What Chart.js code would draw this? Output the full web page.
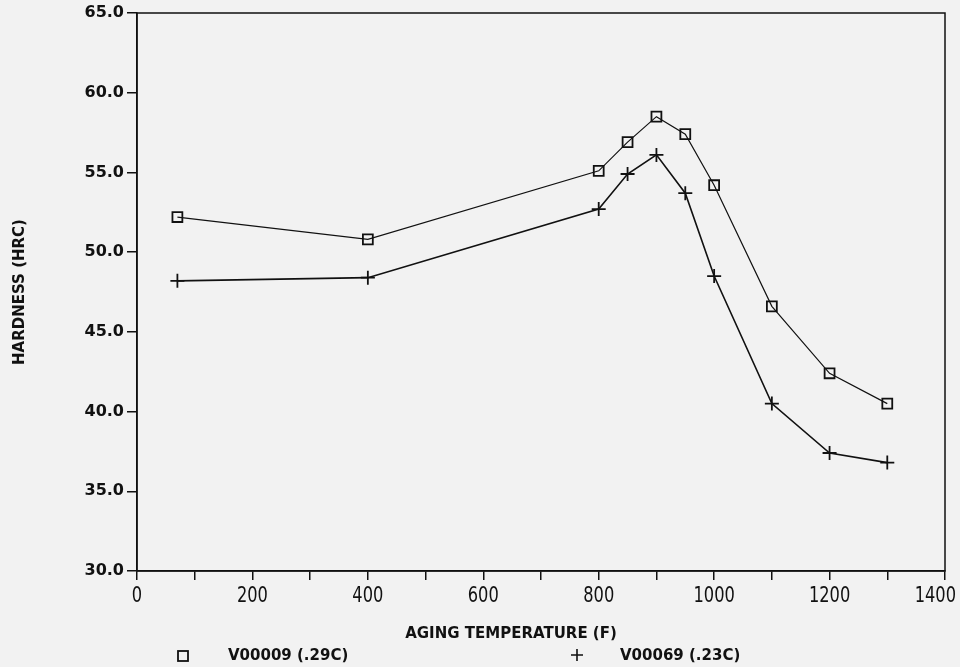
<!DOCTYPE html>
<html>
<head>
<meta charset="utf-8">
<script src="https://cdn.jsdelivr.net/npm/chart.js@4"></script>
<style>
  html, body { margin: 0; padding: 0; background: #f2f2f2; }
  canvas { display: block; }
</style>
</head>
<body>
<canvas id="hardnessChart" width="960" height="667"></canvas>
<script>
// datos
const temps = [70, 400, 800, 850, 900, 950, 1000, 1100, 1200, 1300];
const hrcV00009 = [52.2, 50.8, 55.1, 56.9, 58.5, 57.4, 54.2, 46.6, 42.4, 40.5];
const hrcV00069 = [48.2, 48.4, 52.7, 54.9, 56.1, 53.7, 48.5, 40.5, 37.4, 36.8];
const seriesNames = ['V00009 (.29C)', 'V00069 (.23C)'];
const xTitle = 'AGING TEMPERATURE (F)';
const yTitle = 'HARDNESS (HRC)';

const INK = '#111';
const boldFont = "'DejaVu Sans', sans-serif";
const narrowFont = "'Liberation Sans Narrow', 'DejaVu Sans Condensed', 'Liberation Sans', sans-serif";

function toPoints(ys) {
    return temps.map((t, i) => ({ x: t, y: ys[i] }));
}

// marco superior y derecho
const frame = {
    id: 'frame',
    afterDraw(chart) {
        const { ctx, chartArea } = chart;
        ctx.save();
        ctx.strokeStyle = INK;
        ctx.lineWidth = 1.5;
        ctx.strokeRect(chartArea.left, chartArea.top, chartArea.right - chartArea.left, chartArea.bottom - chartArea.top);
        ctx.restore();
    }
};

// etiquetas del eje x en letra estrecha (como el trazador)
const narrowTicks = {
    id: 'narrowTicks',
    afterDraw(chart) {
        const { ctx } = chart;
        const xs = chart.scales.x;
        ctx.save();
        ctx.fillStyle = INK;
        ctx.font = '22px ' + narrowFont;
        ctx.textAlign = 'center';
        ctx.textBaseline = 'top';
        xs.ticks.forEach(t => {
            if (t.value % 200 !== 0) return;
            const label = String(t.value);
            let px = xs.getPixelForValue(t.value);
            const w = ctx.measureText(label).width * 0.82;
            px = Math.min(px, chart.width - w / 2 - 4);
            ctx.save();
            ctx.translate(px, xs.bottom - xs.height + 14);
            ctx.scale(0.82, 1);
            ctx.fillText(label, 0, 0);
            ctx.restore();
        });
        ctx.restore();
    }
};

// titulo del eje x y leyenda abajo
const bottomText = {
    id: 'bottomText',
    afterDraw(chart) {
        const { ctx } = chart;
        ctx.save();
        ctx.fillStyle = INK;
        ctx.strokeStyle = INK;
        ctx.font = 'bold 15px ' + boldFont;
        ctx.textBaseline = 'middle';
        ctx.textAlign = 'center';
        ctx.fillText(xTitle, 511, 634);

        ctx.font = 'bold 15px ' + boldFont;
        ctx.textAlign = 'left';
        // cuadro
        ctx.lineWidth = 1.8;
        ctx.strokeRect(178, 651, 10, 10);
        ctx.fillText(seriesNames[0], 228, 656);
        // cruz
        ctx.lineWidth = 1.6;
        ctx.beginPath();
        ctx.moveTo(571, 655); ctx.lineTo(583, 655);
        ctx.moveTo(577, 649); ctx.lineTo(577, 661);
        ctx.stroke();
        ctx.fillText(seriesNames[1], 620, 656);
        ctx.restore();
    }
};

new Chart(document.getElementById('hardnessChart'), {
    type: 'line',
    data: {
        datasets: [
            {
                label: seriesNames[0],
                data: toPoints(hrcV00009),
                borderColor: INK,
                borderWidth: 1.2,
                pointStyle: 'rect',
                pointRadius: 7,
                pointBorderWidth: 1.8,
                pointBorderColor: INK,
                pointBackgroundColor: 'rgba(0,0,0,0)',
                tension: 0
            },
            {
                label: seriesNames[1],
                data: toPoints(hrcV00069),
                borderColor: INK,
                borderWidth: 1.6,
                pointStyle: 'cross',
                pointRadius: 7,
                pointBorderWidth: 1.8,
                pointBorderColor: INK,
                tension: 0
            }
        ]
    },
    options: {
        responsive: false,
        animation: false,
        devicePixelRatio: 1,
        layout: { padding: { left: 0, right: 15, top: 13, bottom: 0 } },
        plugins: {
            legend: { display: false },
            tooltip: { enabled: false }
        },
        scales: {
            x: {
                type: 'linear',
                min: 0,
                max: 1400,
                afterFit(scale) { scale.height = 96; },
                border: { color: INK, width: 1.5 },
                grid: { drawOnChartArea: false, drawTicks: true, tickLength: 9, color: INK, lineWidth: 1.5 },
                ticks: {
                    display: false,
                    stepSize: 100,
                    autoSkip: false,
                    callback: v => String(v)
                }
            },
            y: {
                min: 30,
                max: 65,
                afterFit(scale) { scale.width = 137; },
                border: { color: INK, width: 1.5 },
                grid: { drawOnChartArea: false, drawTicks: true, tickLength: 10, color: INK, lineWidth: 1.5 },
                ticks: {
                    stepSize: 5,
                    padding: 3,
                    color: INK,
                    font: { family: boldFont, size: 16, weight: 'bold' },
                    callback: v => v.toFixed(1)
                },
                title: {
                    display: true,
                    text: yTitle,
                    color: INK,
                    padding: { top: 11, bottom: 0 },
                    font: { family: boldFont, size: 15, weight: 'bold' }
                }
            }
        }
    },
    plugins: [frame, narrowTicks, bottomText]
});
</script>
</body>
</html>
